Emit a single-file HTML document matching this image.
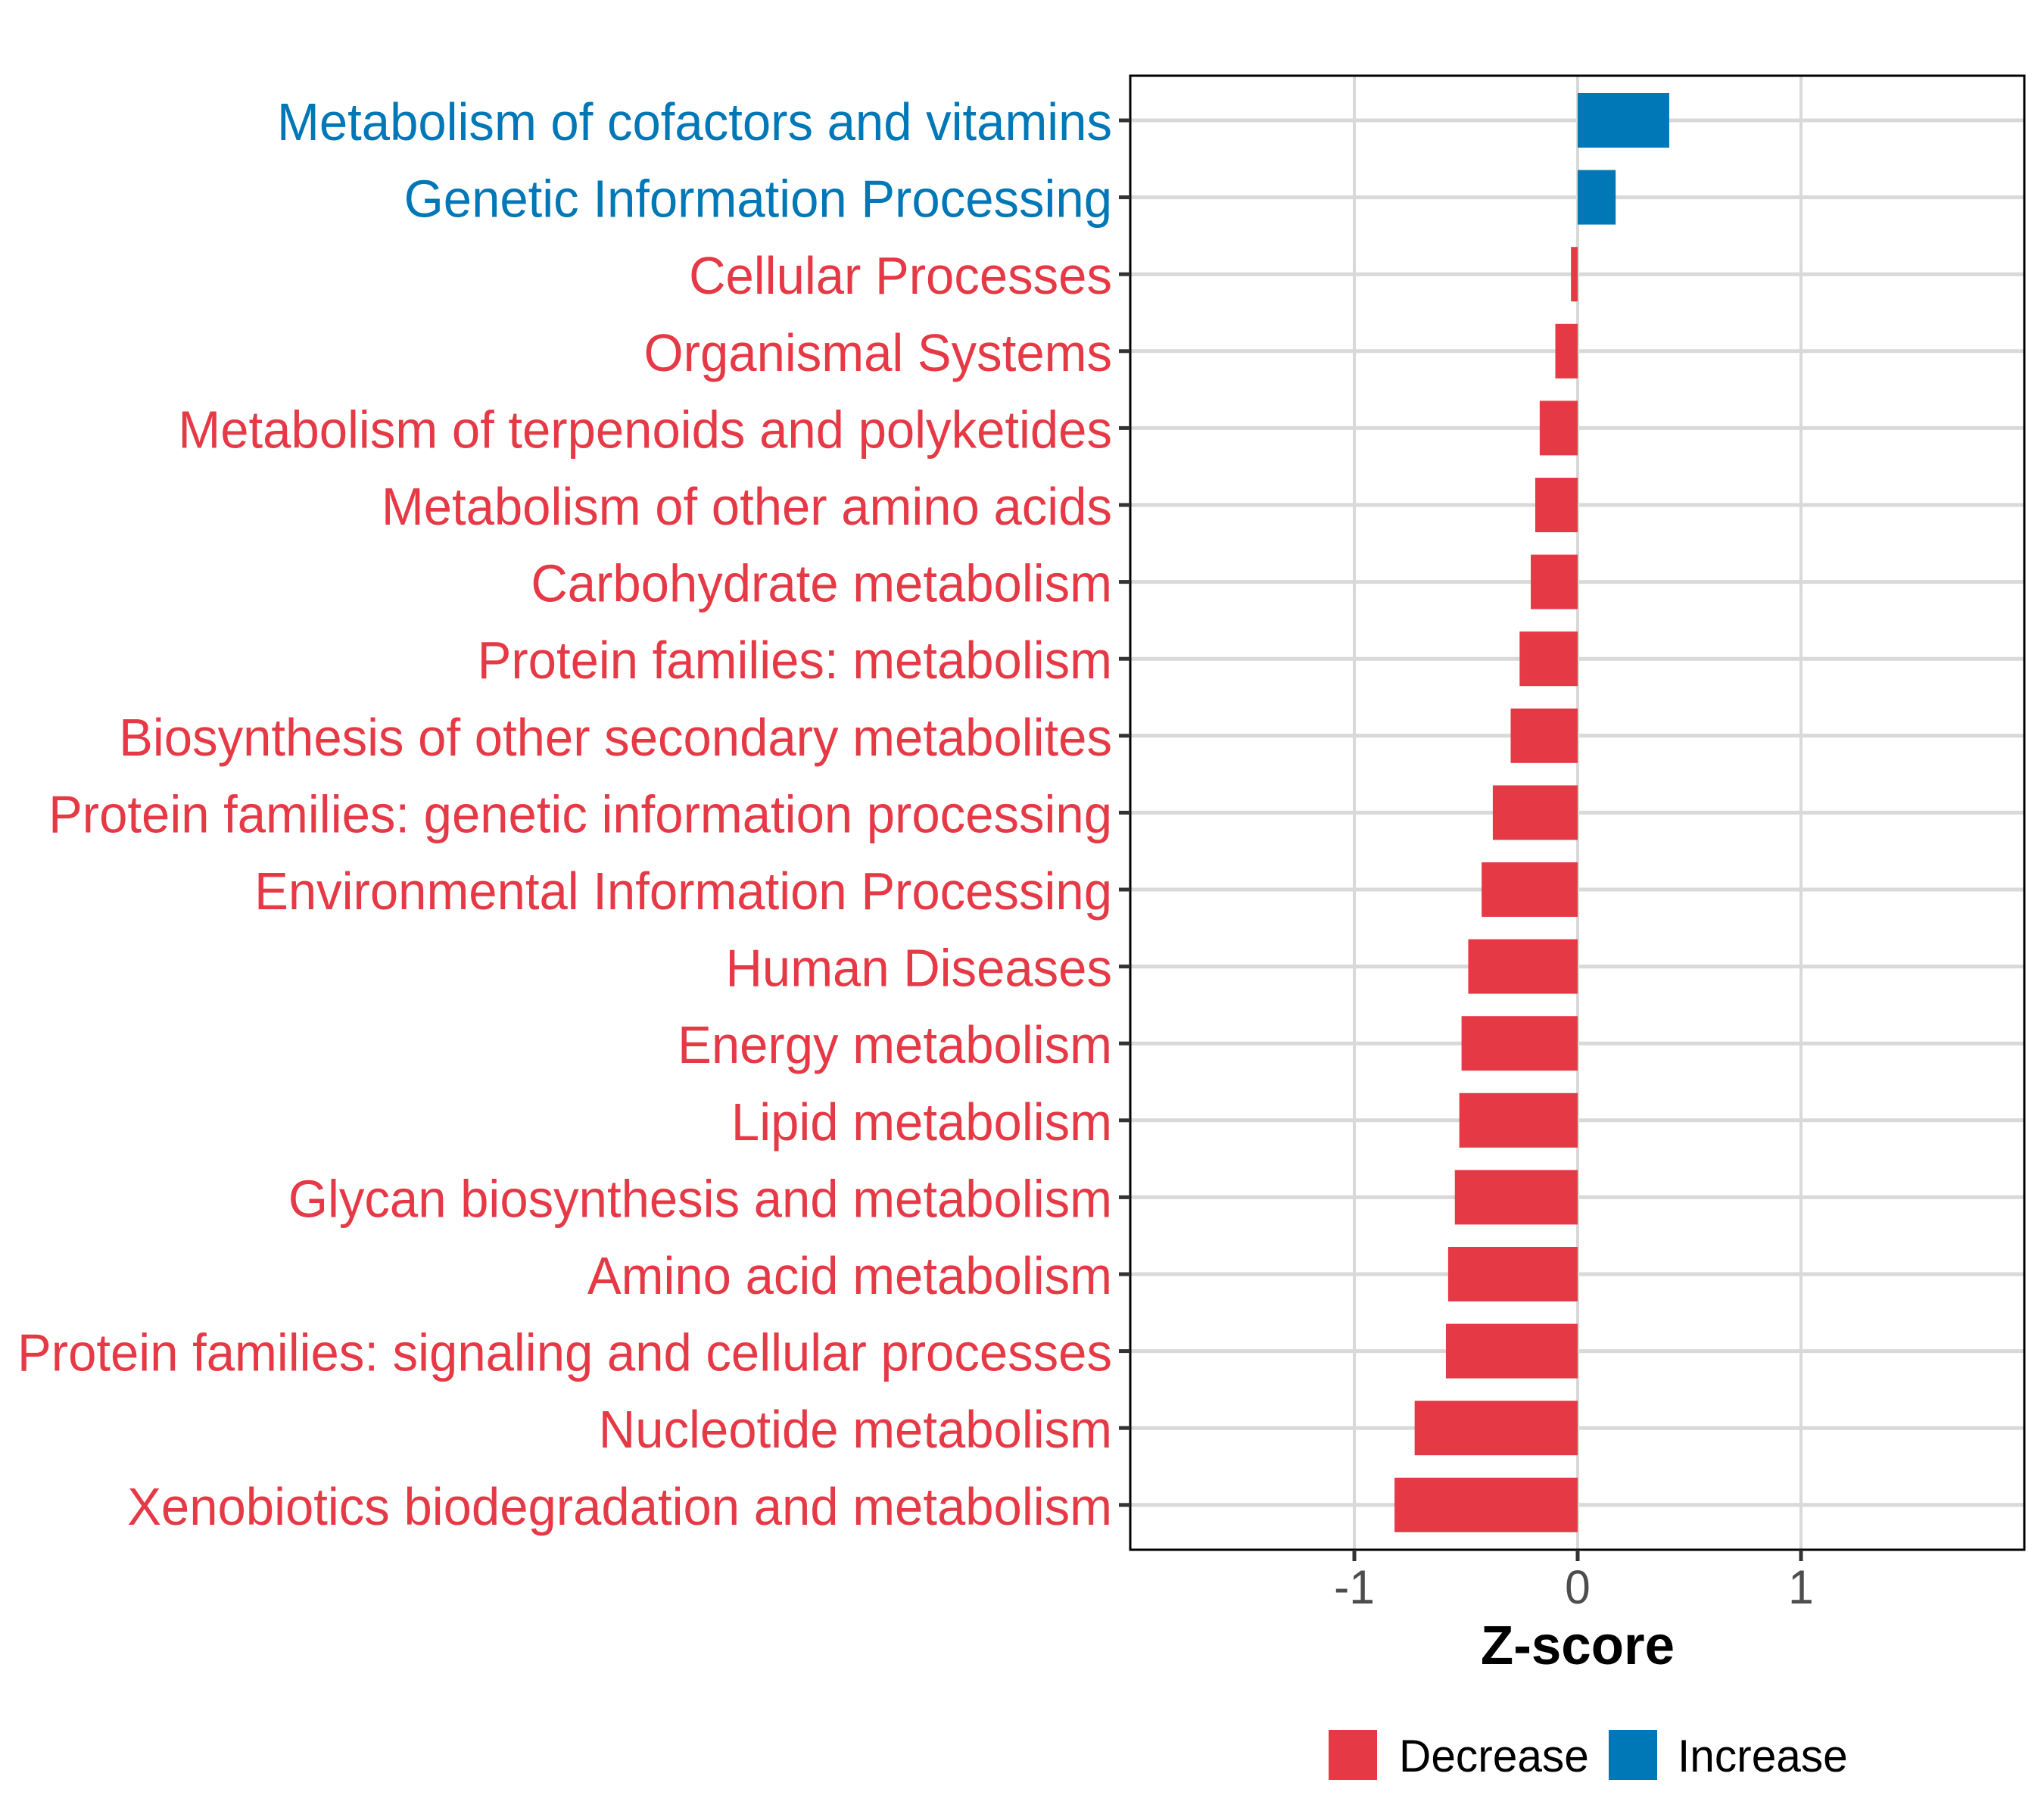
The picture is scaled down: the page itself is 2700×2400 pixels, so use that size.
<!DOCTYPE html>
<html><head><meta charset="utf-8"><style>
html,body{margin:0;padding:0;background:#fff;}
svg{display:block;font-family:"Liberation Sans",Arial,sans-serif;}
</style></head><body>
<svg id="chart" width="2700" height="2400" viewBox="0 0 2700 2400">
<rect x="0" y="0" width="2700" height="2400" fill="#fff"/>
<g id="grid"></g>
<g id="bars"></g>
<rect x="1493" y="100" width="1181" height="1947" fill="none" stroke="#000" stroke-width="3"/>
<g id="ylabels"></g>
<g id="xticks"></g>
<text x="0" y="0" text-anchor="middle" font-size="72" font-weight="bold" fill="#000" transform="translate(2084 2198) scale(0.985 1)">Z-score</text>
<g>
<rect x="1755" y="2285" width="64" height="66" fill="#E63946"/>
<text x="0" y="0" font-size="60" fill="#000" transform="translate(1848 2340) scale(0.977 1)">Decrease</text>
<rect x="2125" y="2285" width="64" height="66" fill="#0077B6"/>
<text x="0" y="0" font-size="60" fill="#000" transform="translate(2216 2340) scale(0.977 1)">Increase</text>
</g>
</svg>
<script>
const categories = ["Metabolism of cofactors and vitamins","Genetic Information Processing","Cellular Processes","Organismal Systems","Metabolism of terpenoids and polyketides","Metabolism of other amino acids","Carbohydrate metabolism","Protein families: metabolism","Biosynthesis of other secondary metabolites","Protein families: genetic information processing","Environmental Information Processing","Human Diseases","Energy metabolism","Lipid metabolism","Glycan biosynthesis and metabolism","Amino acid metabolism","Protein families: signaling and cellular processes","Nucleotide metabolism","Xenobiotics biodegradation and metabolism"];
const zscores = [0.41,0.17,-0.03,-0.10,-0.17,-0.19,-0.21,-0.26,-0.30,-0.38,-0.43,-0.49,-0.52,-0.53,-0.55,-0.58,-0.59,-0.73,-0.82];
const xTicks = [-1,0,1];
const xTickLabels = ["-1","0","1"];

const NS = "http://www.w3.org/2000/svg";
const panelL = 1493, panelR = 2674, panelT = 100, panelB = 2047;
function xScale(v){ return 2084 + v*295; }
function yScale(i){ return 159 + i*101.6; }
const RED = "#E63946", BLUE = "#0077B6";
function mk(tag, attrs, parent){ const e=document.createElementNS(NS,tag); for(const k in attrs) e.setAttribute(k,attrs[k]); parent.appendChild(e); return e; }

const grid = document.getElementById('grid');
xTicks.forEach((t,i)=>{
  const l = mk('line',{x1:xScale(t),x2:xScale(t),y1:panelT,y2:panelB,stroke:'#d9d9d9','stroke-width':4},grid);
  
  
});
categories.forEach((c,i)=>{
  const l = mk('line',{x1:panelL,x2:panelR,y1:yScale(i),y2:yScale(i),stroke:'#d9d9d9','stroke-width':5},grid);
  
  
});

const bars = document.getElementById('bars');
const ylabels = document.getElementById('ylabels');
categories.forEach((c,i)=>{
  const v = zscores[i];
  const col = v >= 0 ? BLUE : RED;
  const x0 = Math.min(xScale(0), xScale(v)), w = Math.abs(xScale(v)-xScale(0));
  const r = mk('rect',{x:x0,y:yScale(i)-36,width:w,height:72,fill:col},bars);
  
  
  const tk = mk('line',{x1:1478,x2:1493,y1:yScale(i),y2:yScale(i),stroke:'#333','stroke-width':5},ylabels);
  
  
  const t = mk('text',{x:0,y:0,'text-anchor':'end','font-size':70,fill:col,transform:`translate(1469 ${yScale(i)+26}) scale(0.958 1)`},ylabels);
  t.textContent = c;
  
  
});

const xt = document.getElementById('xticks');
xTicks.forEach((t,i)=>{
  const l = mk('line',{x1:xScale(t),x2:xScale(t),y1:panelB,y2:panelB+15,stroke:'#333','stroke-width':5},xt);
  
  
  const tx = mk('text',{x:0,y:0,'text-anchor':'middle','font-size':63,fill:'#4d4d4d',transform:`translate(${xScale(t)} 2118) scale(0.96 1)`},xt);
  tx.textContent = xTickLabels[i];
  
  
});
</script>
</body></html>
